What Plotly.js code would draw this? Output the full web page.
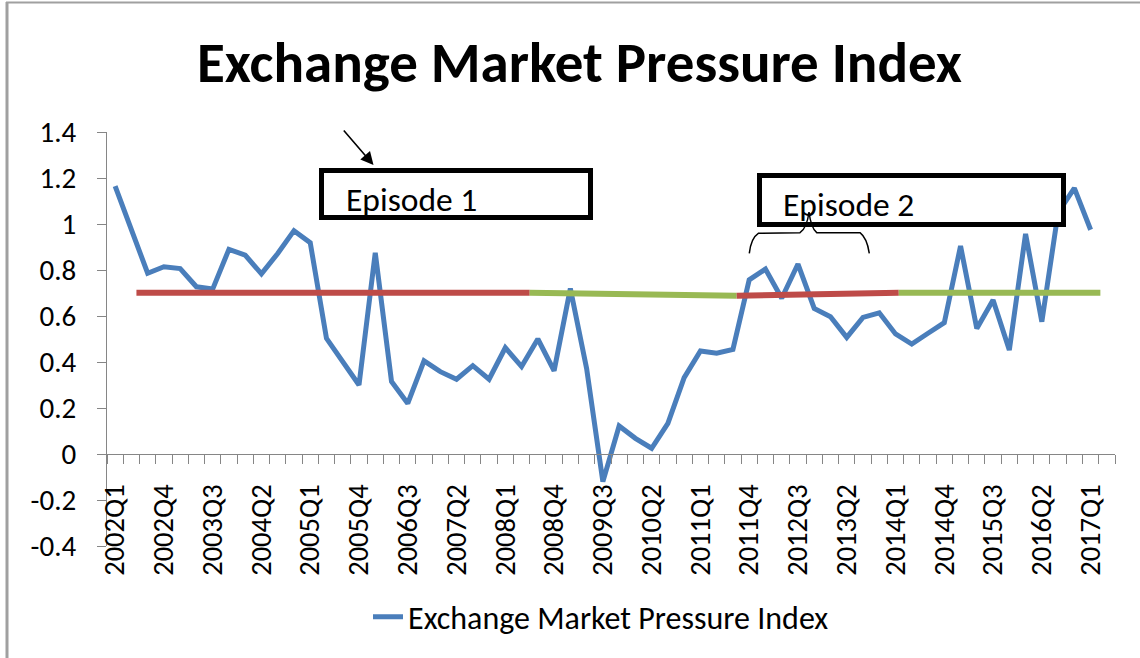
<!DOCTYPE html>
<html>
<head>
<meta charset="utf-8">
<script src="https://cdn.plot.ly/plotly-3.0.1.min.js"></script>
<style>html,body{margin:0;padding:0;background:#fff;}#chart{width:1140px;height:658px;}</style>
</head>
<body>
<div id="chart"></div>
<script>
// ---------- data ----------
const quarters = [
  "2002Q1","2002Q2","2002Q3","2002Q4","2003Q1","2003Q2","2003Q3","2003Q4",
  "2004Q1","2004Q2","2004Q3","2004Q4","2005Q1","2005Q2","2005Q3","2005Q4",
  "2006Q1","2006Q2","2006Q3","2006Q4","2007Q1","2007Q2","2007Q3","2007Q4",
  "2008Q1","2008Q2","2008Q3","2008Q4","2009Q1","2009Q2","2009Q3","2009Q4",
  "2010Q1","2010Q2","2010Q3","2010Q4","2011Q1","2011Q2","2011Q3","2011Q4",
  "2012Q1","2012Q2","2012Q3","2012Q4","2013Q1","2013Q2","2013Q3","2013Q4",
  "2014Q1","2014Q2","2014Q3","2014Q4","2015Q1","2015Q2","2015Q3","2015Q4",
  "2016Q1","2016Q2","2016Q3","2016Q4","2017Q1","2017Q2"
];
const empIndex = [
  1.165, 0.974, 0.786, 0.814, 0.806, 0.727, 0.717, 0.890,
  0.865, 0.783, 0.872, 0.971, 0.919, 0.503, 0.397, 0.300,
  0.875, 0.315, 0.220, 0.405, 0.358, 0.325, 0.384, 0.325,
  0.462, 0.380, 0.500, 0.362, 0.720, 0.372, -0.120, 0.122,
  0.068, 0.025, 0.133, 0.332, 0.448, 0.438, 0.455, 0.757,
  0.804, 0.677, 0.826, 0.633, 0.597, 0.507, 0.594, 0.614,
  0.522, 0.478, 0.525, 0.571, 0.904, 0.546, 0.670, 0.452,
  0.957, 0.575, 1.050, 1.156, 0.975, null
];
// labelled quarters on the category axis (every third quarter)
const tickLabels = [
  "2002Q1","2002Q4","2003Q3","2004Q2","2005Q1","2005Q4","2006Q3","2007Q2",
  "2008Q1","2008Q4","2009Q3","2010Q2","2011Q1","2011Q4","2012Q3","2013Q2",
  "2014Q1","2014Q4","2015Q3","2016Q2","2017Q1"
];
const yTickVals = [-0.4, -0.2, 0, 0.2, 0.4, 0.6, 0.8, 1, 1.2, 1.4];
const yTickText = ["-0.4", "-0.2", "0", "0.2", "0.4", "0.6", "0.8", "1", "1.2", "1.4"];
// hand-drawn threshold segments (quarter index positions, level)
const redSeg1X = [1.31, 25.5],  redSeg1Y = [0.701, 0.701];
const greenSeg1X = [25.5, 38.23], greenSeg1Y = [0.701, 0.688];
const redSeg2X = [38.23, 48.2], redSeg2Y = [0.688, 0.701];
const greenSeg2X = [48.2, 60.6], greenSeg2Y = [0.701, 0.701];
const seriesName = "Exchange Market Pressure Index";
const chartTitle = "Exchange Market Pressure Index";

// ---------- geometry helpers ----------
const W = 1140, H = 658;
const M = {l: 107, r: 25, t: 132, b: 112};
const plotW = W - M.l - M.r, plotH = H - M.t - M.b;
const nCat = quarters.length;
const yMin = -0.4, yMax = 1.4;
function px2x(px) { return -0.5 + (px - M.l) / (plotW / nCat); }
function px2y(py) { return yMax - (py - M.t) / plotH * (yMax - yMin); }
function px2paperX(px) { return (px - M.l) / plotW; }
function px2paperY(py) { return (H - M.b - py) / plotH; }

const xIdx = quarters.map((q, i) => i);
const tickIdx = tickLabels.map(t => quarters.indexOf(t));
const boundaries = [];
for (let i = 0; i <= nCat; i++) boundaries.push(i - 0.5);

const FONT = "Carlito, Calibri, Lato, 'Open Sans', sans-serif";
const BLUE = "#4A7EBB", RED = "#BE4B48", GREEN = "#98B954", AXIS = "#868686";

const traces = [
  {x: xIdx, y: empIndex, type: "scatter", mode: "lines", name: seriesName,
   line: {color: BLUE, width: 5}, connectgaps: false, hoverinfo: "x+y"},
  {x: redSeg1X, y: redSeg1Y, mode: "lines", line: {color: RED, width: 6}, showlegend: false, hoverinfo: "skip"},
  {x: greenSeg1X, y: greenSeg1Y, mode: "lines", line: {color: GREEN, width: 6}, showlegend: false, hoverinfo: "skip"},
  {x: redSeg2X, y: redSeg2Y, mode: "lines", line: {color: RED, width: 6}, showlegend: false, hoverinfo: "skip"},
  {x: greenSeg2X, y: greenSeg2Y, mode: "lines", line: {color: GREEN, width: 6}, showlegend: false, hoverinfo: "skip"}
];

function bracePath(pts) {
  return pts.map(p => [px2x(p[0]).toFixed(4), px2y(p[1]).toFixed(4)]);
}
const b = bracePath([[749.3,253.3],[751,238],[758.3,233.3],[800,232.7],[807,228],[809,212],
                     [811,228],[816.7,232.7],[860,232.7],[867,238],[869.3,253.3]]);
const braceD = "M" + b[0].join(",") +
  " Q" + b[1].join(",") + " " + b[2].join(",") +
  " L" + b[3].join(",") +
  " Q" + b[4].join(",") + " " + b[5].join(",") +
  " Q" + b[6].join(",") + " " + b[7].join(",") +
  " L" + b[8].join(",") +
  " Q" + b[9].join(",") + " " + b[10].join(",");

const layout = {
  width: W, height: H,
  margin: M,
  paper_bgcolor: "#ffffff", plot_bgcolor: "#ffffff",
  font: {family: FONT, color: "#000000", size: 29},
  title: {text: "<b>" + chartTitle + "</b>", font: {family: FONT, size: 57, color: "#000"},
          x: 579.5 / W, xanchor: "center", xref: "container",
          y: 1 - 62 / H, yanchor: "middle", yref: "container"},
  showlegend: true,
  legend: {orientation: "h", x: 368 / W, xanchor: "left", xref: "container",
           y: 1 - 617 / H, yanchor: "middle", yref: "container",
           font: {family: FONT, size: 32, color: "#000"}, bgcolor: "rgba(0,0,0,0)"},
  xaxis: {
    range: [-0.5, nCat - 0.5], type: "linear",
    anchor: "free", position: (0 - yMin) / (yMax - yMin),
    tickmode: "array", tickvals: tickIdx, ticktext: tickLabels,
    tickangle: -90, ticks: "", ticklabelstandoff: 18,
    tickfont: {family: FONT, size: 28.5, color: "#000"},
    minor: {tickmode: "array", tickvals: boundaries, ticks: "outside", ticklen: 9, tickwidth: 1, tickcolor: AXIS, showgrid: false},
    showline: true, linecolor: AXIS, linewidth: 1,
    showgrid: false, zeroline: false, fixedrange: true
  },
  yaxis: {
    range: [yMin, yMax], tickmode: "array", tickvals: yTickVals, ticktext: yTickText,
    ticks: "outside", ticklen: 9, tickwidth: 1, tickcolor: AXIS, ticklabelstandoff: 15,
    tickfont: {family: FONT, size: 29, color: "#000"},
    showline: true, linecolor: AXIS, linewidth: 1,
    showgrid: false, zeroline: false, fixedrange: true
  },
  shapes: [
    // episode boxes
    {type: "rect", xref: "x", yref: "y", layer: "above",
     x0: px2x(321.5), x1: px2x(590.5), y0: px2y(170.5), y1: px2y(217.5),
     line: {color: "#000", width: 5}, fillcolor: "#ffffff"},
    {type: "rect", xref: "x", yref: "y", layer: "above",
     x0: px2x(759.5), x1: px2x(1063.5), y0: px2y(175.5), y1: px2y(224.5),
     line: {color: "#000", width: 5}, fillcolor: "#ffffff"},
    // curly brace under episode 2
    {type: "path", xref: "x", yref: "y", layer: "above", path: braceD,
     line: {color: "#000", width: 1.5}},
    // outer chart frame
    {type: "line", xref: "paper", yref: "paper", x0: px2paperX(7), x1: px2paperX(7),
     y0: px2paperY(2), y1: px2paperY(660), line: {color: "#a0a0a0", width: 3}},
    {type: "line", xref: "paper", yref: "paper", x0: px2paperX(6), x1: px2paperX(1142),
     y0: px2paperY(2.5), y1: px2paperY(2.5), line: {color: "#a0a0a0", width: 2}}
  ],
  annotations: [
    {text: "Episode 1", xref: "x", yref: "y", x: px2x(344), y: px2y(199),
     xanchor: "left", yanchor: "middle", showarrow: false,
     font: {family: FONT, size: 33.5, color: "#000"}},
    {text: "Episode 2", xref: "x", yref: "y", x: px2x(781), y: px2y(204),
     xanchor: "left", yanchor: "middle", showarrow: false,
     font: {family: FONT, size: 33.5, color: "#000"}},
    {text: "", xref: "x", yref: "y", x: px2x(373.5), y: px2y(165),
     showarrow: true, ax: -31, ay: -36, axref: "pixel", ayref: "pixel",
     arrowhead: 2, arrowsize: 1.6, arrowwidth: 1.6, arrowcolor: "#000", standoff: 0}
  ]
};

Plotly.newPlot("chart", traces, layout, {displayModeBar: false, staticPlot: true});
</script>
</body>
</html>
